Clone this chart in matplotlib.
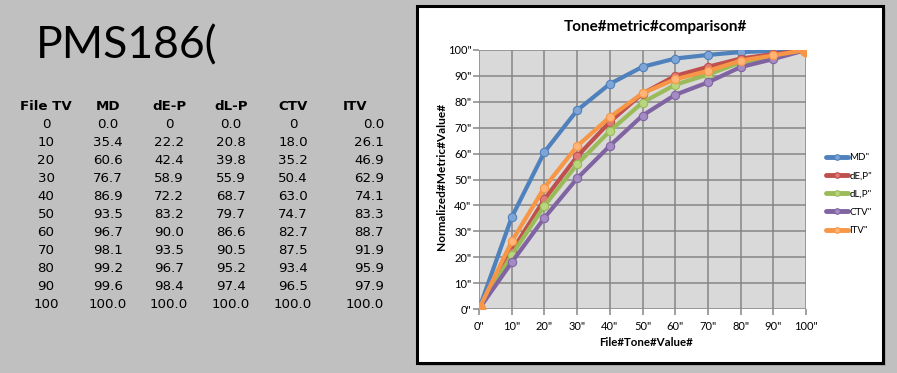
import matplotlib
matplotlib.use("Agg")
import matplotlib.pyplot as plt
from matplotlib.patches import Rectangle

# ---------------- data ----------------
file_tv = [0, 10, 20, 30, 40, 50, 60, 70, 80, 90, 100]
md   = [0.0, 35.4, 60.6, 76.7, 86.9, 93.5, 96.7, 98.1, 99.2, 99.6, 100.0]
de_p = [0, 22.2, 42.4, 58.9, 72.2, 83.2, 90.0, 93.5, 96.7, 98.4, 100.0]
dl_p = [0.0, 20.8, 39.8, 55.9, 68.7, 79.7, 86.6, 90.5, 95.2, 97.4, 100.0]
ctv  = [0, 18.0, 35.2, 50.4, 63.0, 74.7, 82.7, 87.5, 93.4, 96.5, 100.0]
itv  = [0.0, 26.1, 46.9, 62.9, 74.1, 83.3, 88.7, 91.9, 95.9, 97.9, 100.0]

table_headers = ["File TV", "MD", "dE-P", "dL-P", "CTV", "ITV"]
series_labels = ['MD"', 'dE,P"', 'dL,P"', 'CTV"', 'ITV"']
tick_values = [0, 10, 20, 30, 40, 50, 60, 70, 80, 90, 100]
tick_labels = [f'{t}"' for t in tick_values]
big_title = "PMS186("
chart_title = "Tone#metric#comparison#"
x_label = "File#Tone#Value#"
y_label = "Normalized#Metric#Value#"

colors = ["#4F81BD", "#C0504D", "#9BBB59", "#8064A2", "#F79646"]
fills = ["#7FA5D6", "#E07A77", "#B8D67E", "#A58BC4", "#FFB478"]

W, H = 897, 373
fig = plt.figure(figsize=(W / 100, H / 100), dpi=100)
fig.patch.set_facecolor("#C0C0C0")

def fx(px):
    return px / W

def fy(py):
    return 1 - py / H

# ---------------- left side text ----------------
fig.text(fx(36), fy(58), big_title, fontsize=32, family="Lato", color="black",
         ha="left", va="baseline")

col_centers = [46, 108, 169, 231, 293]
itv_right = 384
itv_head_center = 355
head_y = 110
row0_y = 128
row_step = 18
tfont = dict(family="DejaVu Sans", fontsize=9.6, color="black", va="baseline")

for i, h in enumerate(table_headers):
    x = col_centers[i] if i < 5 else itv_head_center
    fig.text(fx(x), fy(head_y), h, ha="center", fontweight="bold", **tfont)

def fmt(v):
    return str(v) if isinstance(v, int) else f"{v:.1f}"

for r in range(len(file_tv)):
    y = row0_y + r * row_step
    cols = [str(file_tv[r]), fmt(md[r]), fmt(de_p[r]), fmt(dl_p[r]), fmt(ctv[r])]
    for c, s in enumerate(cols):
        fig.text(fx(col_centers[c]), fy(y), s, ha="center", **tfont)
    fig.text(fx(itv_right), fy(y), fmt(itv[r]), ha="right", **tfont)

# ---------------- chart frame ----------------
shadow = Rectangle((fx(420), fy(366)), fx(466), 357 / H, transform=fig.transFigure,
                   facecolor="#A9A9A9", edgecolor="none", zorder=0)
fig.patches.append(shadow)
frame = Rectangle((fx(417), fy(363)), fx(466), 357 / H, transform=fig.transFigure,
                  facecolor="white", edgecolor="black", linewidth=2.2, zorder=1)
fig.patches.append(frame)

ax = fig.add_axes([fx(479), fy(309), fx(806 - 479), (309 - 50) / H])
ax.set_facecolor("#D9D9D9")
ax.set_zorder(2)

series = [md, de_p, dl_p, ctv, itv]
for vals, col, fc, lab in zip(series, colors, fills, series_labels):
    ax.plot(file_tv, vals, color=col, linewidth=3.0, marker="o", markersize=6,
            markerfacecolor=fc, markeredgecolor=col, markeredgewidth=0.8,
            label=lab, solid_capstyle="round", zorder=3)
# larger endpoints as in reference
ax.plot([file_tv[0], file_tv[-1]], [itv[0], itv[-1]], "o", color=colors[4],
        markersize=9, zorder=4)

ax.set_xlim(0, 100)
ax.set_ylim(0, 100)
ax.set_xticks(tick_values)
ax.set_xticklabels(tick_labels)
ax.set_yticks(tick_values)
ax.set_yticklabels(tick_labels)
ax.grid(True, color="#868686", linewidth=1.1)
ax.set_axisbelow(True)
for s in ax.spines.values():
    s.set_visible(False)
ax.tick_params(axis="both", length=4, width=1.1, color="#868686",
               labelsize=8, labelcolor="black")
ax.tick_params(axis="x", pad=5)
ax.tick_params(axis="y", pad=1.5)
for lbl in ax.get_xticklabels() + ax.get_yticklabels():
    lbl.set_family("Lato")

fig.text(fx(655), fy(27), chart_title, ha="center", va="center", fontsize=11,
         family="Lato", fontweight="bold", color="black", zorder=5)
fig.text(fx(646), fy(343), x_label, ha="center", va="center", fontsize=8.3,
         family="Lato", fontweight="bold", color="black", zorder=5)
fig.text(fx(441), fy(176), y_label, ha="center", va="center", fontsize=8.6,
         family="Lato", fontweight="bold", color="black", rotation=90, zorder=5)

leg = fig.legend(loc="upper left", bbox_to_anchor=(fx(826), fy(153)),
                 frameon=False, fontsize=7, handlelength=2.3, handletextpad=0.1,
                 labelspacing=0.95, borderpad=0, borderaxespad=0,
                 prop={"family": "Lato", "size": 7})
for line in leg.get_lines():
    line.set_markersize(4)
    line.set_linewidth(3.5)
leg.set_zorder(6)

fig.savefig("out.png", dpi=100, facecolor=fig.get_facecolor())
